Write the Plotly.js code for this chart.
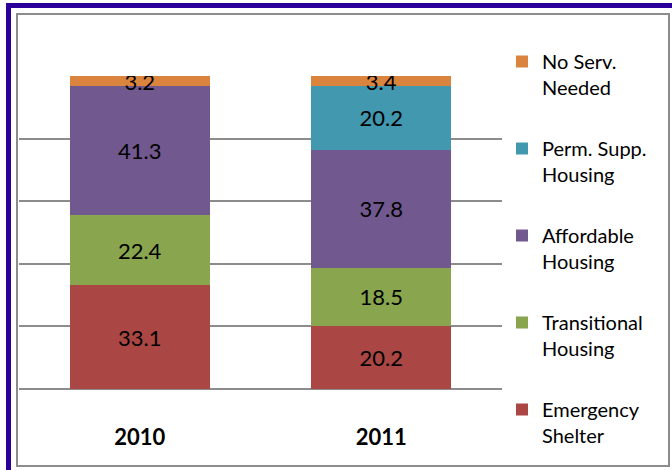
<!DOCTYPE html>
<html>
<head>
<meta charset="utf-8">
<script src="https://cdn.plot.ly/plotly-3.0.1.min.js"></script>
<style>
  html, body { margin: 0; padding: 0; background: #ffffff; }
  #wrap { position: relative; width: 672px; height: 470px; overflow: hidden; background: #fff; }
  #bandTop { position: absolute; left: 6px; top: 3px; width: 666px; height: 5px; background: #2a0099; }
  #bandLeft { position: absolute; left: 6px; top: 3px; width: 5px; height: 467px; background: #2a0099; }
  #frame { position: absolute; left: 16px; top: 13px; width: 650px; height: 450px; border: 2px solid #8c8c8c; }
  #chart { position: absolute; left: 0; top: 0; width: 672px; height: 470px; }
</style>
</head>
<body>
<div id="wrap">
  <div id="bandTop"></div>
  <div id="bandLeft"></div>
  <div id="frame"></div>
  <div id="chart"></div>
</div>
<script>
const years = ['2010', '2011'];
const emergencyShelter = [33.1, 20.2];
const transitionalHousing = [22.4, 18.5];
const affordableHousing = [41.3, 37.8];
const permSuppHousing = [null, 20.2];
const noServNeeded = [3.2, 3.4];

const seriesNames = ['Emergency<br>Shelter', 'Transitional<br>Housing', 'Affordable<br>Housing', 'Perm. Supp.<br>Housing', 'No Serv.<br>Needed'];
const seriesValues = [emergencyShelter, transitionalHousing, affordableHousing, permSuppHousing, noServNeeded];
const seriesColors = ['#AA4643', '#89A54E', '#71588F', '#4198AF', '#DB843D'];

const FONT = 'Lato, "Noto Sans", sans-serif';

const traces = seriesNames.map((name, i) => ({
  type: 'bar',
  name: name,
  x: years,
  y: seriesValues[i],
  marker: { color: seriesColors[i], line: { width: 0 } },
  texttemplate: '%{y:.1f}',
  textposition: 'inside',
  insidetextanchor: 'middle',
  constraintext: 'none',
  textfont: { family: FONT, size: 22, color: '#000000' },
  legendgroup: 'g' + i,
  legendrank: seriesNames.length - i,
  hoverinfo: 'skip'
}));

const layout = {
  width: 672,
  height: 470,
  margin: { l: 19, r: 169, t: 76, b: 81 },
  paper_bgcolor: 'rgba(0,0,0,0)',
  plot_bgcolor: 'rgba(0,0,0,0)',
  barmode: 'stack',
  bargap: 0.42,
  showlegend: true,
  legend: {
    xref: 'container', yref: 'container',
    x: 0.747, y: 1 - 42 / 470,
    xanchor: 'left', yanchor: 'top',
    valign: 'top',
    traceorder: 'grouped',
    tracegroupgap: 32,
    maxheight: 1,
    font: { family: FONT, size: 20, color: '#000000' },
    bgcolor: 'rgba(0,0,0,0)'
  },
  xaxis: {
    type: 'category',
    showgrid: false,
    showline: false,
    zeroline: false,
    ticks: '',
    ticklabelstandoff: 33,
    tickfont: { family: FONT, size: 22, color: '#000000', weight: 'bold' }
  },
  yaxis: {
    range: [0, 100],
    dtick: 20,
    showgrid: true,
    gridcolor: '#8c8c8c',
    gridwidth: 2,
    zeroline: true,
    zerolinecolor: '#8c8c8c',
    zerolinewidth: 2,
    showticklabels: false,
    ticks: '',
    showline: false,
    fixedrange: true
  }
};

Plotly.newPlot('chart', traces, layout, { displayModeBar: false, staticPlot: true });
</script>
</body>
</html>
